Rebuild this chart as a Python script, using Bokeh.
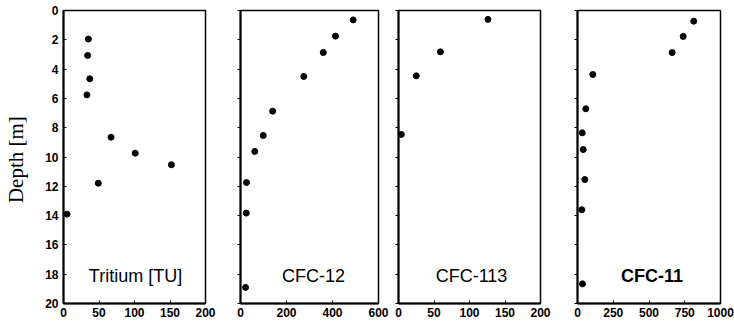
from bokeh.plotting import figure
from bokeh.layouts import row
from bokeh.models import Range1d, FixedTicker, Label
from bokeh.embed import file_html
from bokeh.resources import INLINE

# ---- data ----
depth_ticks = [0, 2, 4, 6, 8, 10, 12, 14, 16, 18, 20]

tritium_tu = [35, 34, 37, 33, 67, 101, 152, 49, 5]
tritium_depth = [1.95, 3.07, 4.66, 5.76, 8.65, 9.74, 10.53, 11.79, 13.9]

cfc12_val = [490, 413, 360, 275, 140, 99, 62, 26, 25, 22]
cfc12_depth = [0.64, 1.75, 2.87, 4.5, 6.87, 8.53, 9.62, 11.74, 13.83, 18.9]

cfc113_val = [126, 59, 25, 4]
cfc113_depth = [0.61, 2.82, 4.46, 8.46]

cfc11_val = [813, 739, 662, 107, 58, 33, 40, 51, 30, 35]
cfc11_depth = [0.73, 1.77, 2.87, 4.37, 6.71, 8.35, 9.49, 11.54, 13.6, 18.66]

panels = [
    dict(name="Tritium [TU]", x=tritium_tu, y=tritium_depth, xmax=200,
         xticks=[0, 50, 100, 150, 200], left=63, frame=142, right=12, off=1, bold=False),
    dict(name="CFC-12", x=cfc12_val, y=cfc12_depth, xmax=600,
         xticks=[0, 200, 400, 600], left=23, frame=138, right=12, off=4, bold=False),
    dict(name="CFC-113", x=cfc113_val, y=cfc113_depth, xmax=200,
         xticks=[0, 50, 100, 150, 200], left=8, frame=142, right=12, off=2, bold=False),
    dict(name="CFC-11", x=cfc11_val, y=cfc11_depth, xmax=1000,
         xticks=[0, 250, 500, 750, 1000], left=25, frame=143, right=14, off=3, bold=True),
]

TOP, FRAME_H, BOTTOM = 10, 293, 22
figs = []
for i, pn in enumerate(panels):
    w = pn["left"] + pn["frame"] + pn["right"]
    p = figure(width=w, height=TOP + FRAME_H + BOTTOM, output_backend="svg",
               toolbar_location=None, x_range=Range1d(0, pn["xmax"]),
               y_range=Range1d(20, 0),
               min_border_left=pn["left"], min_border_right=pn["right"],
               min_border_top=TOP, min_border_bottom=BOTTOM)
    p.xgrid.visible = False
    p.ygrid.visible = False
    p.outline_line_color = "black"
    p.outline_line_width = 1.5
    p.background_fill_color = "white"
    p.border_fill_color = "white"

    p.xaxis.ticker = FixedTicker(ticks=pn["xticks"])
    p.xaxis.axis_line_width = 2
    p.xaxis.axis_line_color = "black"
    p.xaxis.major_tick_line_color = "black"
    p.xaxis.major_tick_in = 3
    p.xaxis.major_tick_out = 0
    p.xaxis.minor_tick_line_color = None
    p.xaxis.major_label_standoff = 4
    p.xaxis.major_label_text_font = "Liberation Sans"
    p.xaxis.major_label_text_font_style = "bold"
    p.xaxis.major_label_text_font_size = "12px"
    p.xaxis.major_label_text_color = "black"

    p.yaxis.ticker = FixedTicker(ticks=depth_ticks)
    p.yaxis.axis_line_width = 2
    p.yaxis.axis_line_color = "black"
    p.yaxis.major_tick_line_color = "black"
    p.yaxis.minor_tick_line_color = None
    if i == 0:
        p.yaxis.major_tick_in = 3
        p.yaxis.major_tick_out = 0
        p.yaxis.major_label_standoff = 5
        p.yaxis.major_label_text_font = "Liberation Sans"
        p.yaxis.major_label_text_font_style = "bold"
        p.yaxis.major_label_text_font_size = "12px"
        p.yaxis.major_label_text_color = "black"
        p.yaxis.axis_label = "Depth  [m]"
        p.yaxis.axis_label_text_font = "Liberation Serif"
        p.yaxis.axis_label_text_font_style = "normal"
        p.yaxis.axis_label_text_font_size = "21px"
        p.yaxis.axis_label_text_color = "black"
        p.yaxis.axis_label_standoff = 14
    else:
        p.yaxis.major_tick_in = 0
        p.yaxis.major_tick_out = 3
        p.yaxis.major_label_standoff = 0
        p.yaxis.major_label_overrides = {t: "" for t in depth_ticks}
        p.yaxis.major_label_text_font_size = "1px"

    p.scatter(pn["x"], pn["y"], size=6, color="black", marker="circle")

    p.add_layout(Label(x=pn["xmax"] / 2, y=18.1, text=pn["name"],
                       x_offset=pn["off"], text_align="center",
                       text_baseline="middle", text_font="Liberation Sans",
                       text_font_size="18px",
                       text_font_style="bold" if pn["bold"] else "normal",
                       text_color="black"))
    figs.append(p)

layout = row(*figs, spacing=0)
open("out.html", "w").write(file_html(layout, INLINE))
